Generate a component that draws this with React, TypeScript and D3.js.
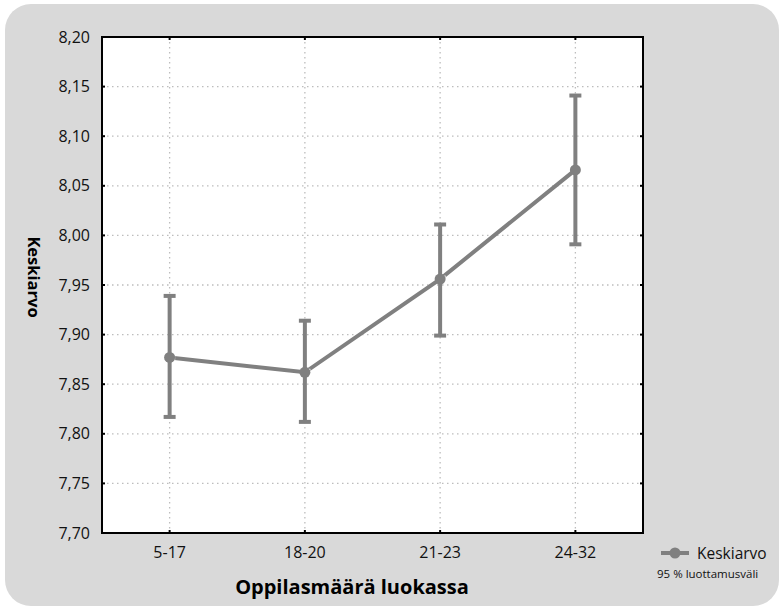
import React, { useEffect, useRef } from 'react';
import * as d3 from 'd3';

// data
const categories = ['5-17', '18-20', '21-23', '24-32'];
const means = [7.877, 7.862, 7.956, 8.066];
const lower = [7.817, 7.812, 7.899, 7.991];
const upper = [7.939, 7.914, 8.011, 8.141];
const yTicks = [7.7, 7.75, 7.8, 7.85, 7.9, 7.95, 8.0, 8.05, 8.1, 8.15, 8.2];

const W = 779;
const H = 611;
const FONT = '"Open Sans", Lato, sans-serif';
const GREY = '#808080';

export default function App() {
  const ref = useRef<SVGSVGElement>(null);

  useEffect(() => {
    const svg = d3.select(ref.current);
    svg.selectAll('*').remove();

    const left = 102, right = 643, top = 37, bottom = 533;
    const x = d3.scalePoint().domain(categories).range([left, right]).padding(0.5);
    const y = d3.scaleLinear().domain([7.7, 8.2]).range([bottom, top]);
    const fmt = d3.formatLocale({ decimal: ',', thousands: ' ', grouping: [3], currency: ['', ''] }).format('.2f');

    // background panel
    svg.append('rect')
      .attr('x', 5).attr('y', 4).attr('width', 774).attr('height', 602)
      .attr('rx', 26).attr('fill', '#d9d9d9');

    svg.append('rect')
      .attr('x', left).attr('y', top).attr('width', right - left).attr('height', bottom - top)
      .attr('fill', '#fff');

    // grid
    const grid = svg.append('g').attr('stroke', '#bdbdbd').attr('stroke-width', 1.3)
      .attr('stroke-dasharray', '1.5,3.5');
    grid.selectAll('line.h').data(yTicks.slice(1, -1)).enter().append('line')
      .attr('x1', left).attr('x2', right)
      .attr('y1', d => y(d)).attr('y2', d => y(d));
    grid.selectAll('line.v').data(categories).enter().append('line')
      .attr('x1', d => x(d)!).attr('x2', d => x(d)!)
      .attr('y1', top).attr('y2', bottom);

    // frame + inward ticks
    svg.append('rect')
      .attr('x', left).attr('y', top).attr('width', right - left).attr('height', bottom - top)
      .attr('fill', 'none').attr('stroke', '#000').attr('stroke-width', 2);
    const ticks = svg.append('g').attr('stroke', '#000').attr('stroke-width', 2);
    yTicks.forEach(v => {
      ticks.append('line').attr('x1', left).attr('x2', left + 3).attr('y1', y(v)).attr('y2', y(v));
      ticks.append('line').attr('x1', right - 3).attr('x2', right).attr('y1', y(v)).attr('y2', y(v));
    });
    categories.forEach(c => {
      ticks.append('line').attr('x1', x(c)!).attr('x2', x(c)!).attr('y1', top).attr('y2', top + 3);
      ticks.append('line').attr('x1', x(c)!).attr('x2', x(c)!).attr('y1', bottom - 3).attr('y2', bottom);
    });

    // tick labels
    svg.append('g').selectAll('text').data(yTicks).enter().append('text')
      .attr('x', left - 12).attr('y', d => y(d)).attr('dy', '0.35em')
      .attr('text-anchor', 'end').attr('font-family', FONT).attr('font-size', 16)
      .attr('fill', '#111').text(d => fmt(d));
    svg.append('g').selectAll('text').data(categories).enter().append('text')
      .attr('x', d => x(d)!).attr('y', 558)
      .attr('text-anchor', 'middle').attr('font-family', FONT).attr('font-size', 16)
      .attr('fill', '#111').text(d => d);

    // axis titles
    svg.append('text')
      .attr('transform', 'translate(28,277) rotate(90)')
      .attr('text-anchor', 'middle').attr('font-family', FONT).attr('font-size', 16.5)
      .attr('font-weight', 'bold').attr('fill', '#000').text('Keskiarvo');
    svg.append('text')
      .attr('x', 352).attr('y', 594).attr('text-anchor', 'middle')
      .attr('font-family', FONT).attr('font-size', 20).attr('font-weight', 'bold')
      .attr('fill', '#000').text('Oppilasmäärä luokassa');

    // error bars
    const eb = svg.append('g').attr('stroke', GREY).attr('stroke-width', 4);
    categories.forEach((c, i) => {
      const cx = x(c)!;
      eb.append('line').attr('x1', cx).attr('x2', cx).attr('y1', y(lower[i])).attr('y2', y(upper[i]));
      eb.append('line').attr('x1', cx - 6).attr('x2', cx + 6).attr('y1', y(lower[i])).attr('y2', y(lower[i]));
      eb.append('line').attr('x1', cx - 6).attr('x2', cx + 6).attr('y1', y(upper[i])).attr('y2', y(upper[i]));
    });

    // mean line
    const line = d3.line<number>().x((_, i) => x(categories[i])!).y(d => y(d));
    svg.append('path').datum(means).attr('d', line)
      .attr('fill', 'none').attr('stroke', GREY).attr('stroke-width', 4);

    const pts = svg.append('g');
    means.forEach((m, i) => {
      const cx = x(categories[i])!;
      pts.append('rect').attr('x', cx - 1).attr('y', y(m) - 3).attr('width', 6).attr('height', 7)
        .attr('fill', 'none').attr('stroke', '#fff').attr('stroke-width', 1);
      pts.append('circle').attr('cx', cx).attr('cy', y(m)).attr('r', 5.5).attr('fill', GREY);
    });

    // legend
    const lg = svg.append('g');
    lg.append('line').attr('x1', 661).attr('x2', 689).attr('y1', 553).attr('y2', 553)
      .attr('stroke', GREY).attr('stroke-width', 4);
    lg.append('circle').attr('cx', 675).attr('cy', 553).attr('r', 5.5).attr('fill', GREY);
    lg.append('text').attr('x', 697).attr('y', 554).attr('dy', '0.35em')
      .attr('font-family', FONT).attr('font-size', 15.5).attr('fill', '#111').text('Keskiarvo');
    lg.append('text').attr('x', 657).attr('y', 574).attr('dy', '0.35em')
      .attr('font-family', FONT).attr('font-size', 11.5).attr('fill', '#111').text('95 % luottamusväli');
  }, []);

  return <svg ref={ref} width={W} height={H} style={{ position: 'absolute', left: 0, top: 0 }} />;
}
